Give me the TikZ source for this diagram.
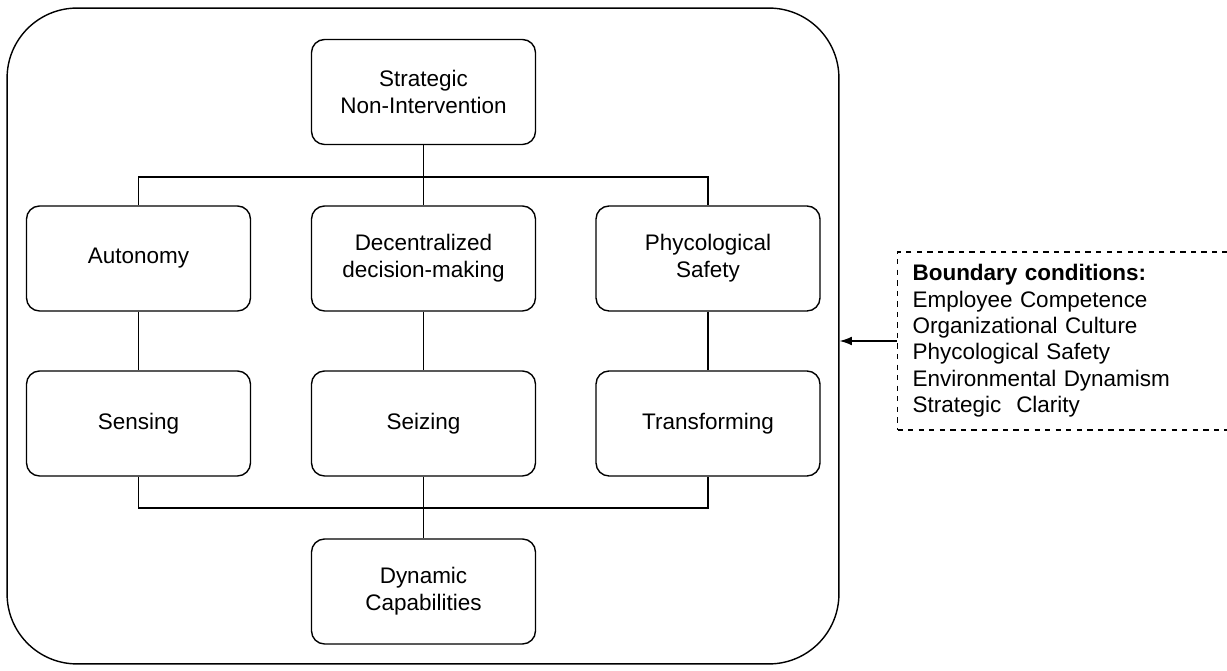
\documentclass[tikz,border=0pt]{standalone}
\usepackage{fontspec}
\setmainfont{Liberation Sans}
\usetikzlibrary{arrows.meta,positioning}
\tikzset{
  blk/.style={draw,line width=0.8pt,rounded corners=0.26cm,minimum width=4.48cm,minimum height=2.1cm,align=center},
  link/.style={draw,line width=0.7pt}
}
\begin{document}
\begin{tikzpicture}[x=0.02cm,y=-0.02cm,font=\fontsize{12.8}{15.4}\selectfont]
  \clip (0,0) rectangle (1227,671);
  \node[draw,line width=0.8pt,rounded corners=1.4cm,minimum width=16.64cm,minimum height=13.12cm] (frame) at (423,336) {};
  \node[blk] (sni) at (423.5,92) {Strategic\\Non-Intervention};
  \node[blk] (auto) at (138.5,258.5) {Autonomy};
  \node[blk] (dec) at (423.5,258.5) {Decentralized\\decision-making};
  \node[blk] (psy) at (708,258.5) {Phycological\\Safety};
  \node[blk] (sens) at (138.5,423.5) {Sensing};
  \node[blk] (seiz) at (423.5,423.5) {Seizing};
  \node[blk] (trans) at (708,423.5) {Transforming};
  \node[blk] (dyn) at (423.5,591.5) {Dynamic\\Capabilities};
  \node[draw,dashed,line width=0.6pt,anchor=west,minimum width=6.9cm,minimum height=3.56cm,text width=6.3cm,inner xsep=0.28cm,inner ysep=0.2cm,align=left,font=\fontsize{12.8}{15}\selectfont] (bound) at (897,341) {\textbf{Boundary conditions:}\\Employee Competence\\Organizational Culture\\Phycological Safety\\Environmental Dynamism\\Strategic\ \ Clarity};
  % top bus
  \coordinate (top) at (423.5,177);
  \draw[link] (sni.south) -- (top);
  \draw[link] (auto.north) |- (top) -| (psy.north);
  \draw[link] (top) -- (dec.north);
  % middle links
  \draw[link] (auto) -- (sens);
  \draw[link] (dec) -- (seiz);
  \draw[link] (psy) -- (trans);
  % bottom bus
  \coordinate (bot) at (423.5,508);
  \draw[link] (sens.south) |- (bot) -| (trans.south);
  \draw[link] (seiz.south) -- (dyn.north);
  \draw[link,-{Latex[length=7pt,width=5pt]}] (bound.west) -- (frame.east |- bound.west);
\end{tikzpicture}
\end{document}
